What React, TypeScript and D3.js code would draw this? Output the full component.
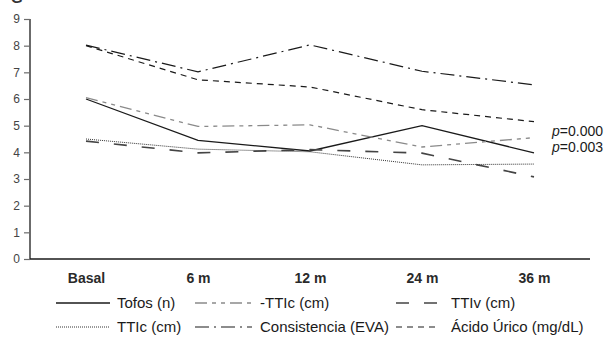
import React, { useEffect, useRef } from 'react';
import * as d3 from 'd3';

const categories = ['Basal', '6 m', '12 m', '24 m', '36 m'];
const yTicks = [0, 1, 2, 3, 4, 5, 6, 7, 8, 9];

const tofos = [6.0, 4.45, 4.05, 5.0, 3.98];
const ttIcDashDot = [6.05, 4.97, 5.03, 4.2, 4.55];
const ttIv = [4.42, 3.98, 4.1, 3.97, 3.08];
const ttIcDotted = [4.5, 4.12, 4.02, 3.53, 3.56];
const consistencia = [8.02, 7.02, 8.03, 7.04, 6.53];
const acidoUrico = [8.0, 6.72, 6.45, 5.6, 5.15];

const pLabels = ['0.000', '0.003'];

interface Series {
  name: string;
  values: number[];
  color: string;
  width: number;
  dash: string | null;
}

const series: Series[] = [
  { name: 'Tofos (n)', values: tofos, color: '#1a1a1a', width: 1.3, dash: null },
  { name: '-TTIc (cm)', values: ttIcDashDot, color: '#8a8a8a', width: 1.3, dash: '12,5,4,5,4,5' },
  { name: 'TTIv (cm)', values: ttIv, color: '#444', width: 1.6, dash: '13,15' },
  { name: 'TTIc (cm)', values: ttIcDotted, color: '#333', width: 1, dash: '1,1' },
  { name: 'Consistencia (EVA)', values: consistencia, color: '#1a1a1a', width: 1.2, dash: '14,5,2,5' },
  { name: 'Ácido Úrico (mg/dL)', values: acidoUrico, color: '#1a1a1a', width: 1.2, dash: '6,5' },
];

export default function App() {
  const svgRef = useRef<SVGSVGElement>(null);
  const width = 607;
  const height = 339;

  useEffect(() => {
    if (!svgRef.current) return;
    const svg = d3.select(svgRef.current);
    svg.selectAll('*').remove();

    const font = '"Liberation Sans", Arial, sans-serif';
    const left = 30;
    const right = 590;
    const top = 19;
    const bottom = 259;

    const x = d3.scalePoint<string>().domain(categories).range([left, right]).padding(0.5);
    const y = d3.scaleLinear().domain([0, 9]).range([bottom, top]);

    // cropped panel letter at top edge
    svg.append('text')
      .attr('x', 11)
      .attr('y', 3)
      .style('font-family', font)
      .style('font-size', '15px')
      .style('font-weight', 'bold')
      .style('fill', '#333')
      .text('G');

    // y axis
    const yAxis = svg.append('g')
      .attr('transform', `translate(${left},0)`)
      .call(d3.axisLeft(y).tickValues(yTicks).tickSize(6).tickPadding(4).tickFormat(d3.format('d')));
    yAxis.select('.domain').attr('d', `M0,${top}V${bottom}`).style('stroke', '#6b6b6b').style('stroke-width', 2);
    yAxis.selectAll('.tick line').style('stroke', '#6b6b6b').style('stroke-width', 1.2);
    yAxis.selectAll('.tick text')
      .style('font-family', font)
      .style('font-size', '12px')
      .style('fill', '#444');

    // x axis
    const xAxis = svg.append('g')
      .attr('transform', `translate(0,${bottom})`)
      .call(d3.axisBottom(x).tickSize(0).tickPadding(14));
    xAxis.select('.domain').attr('d', `M${left},0H${right}`).style('stroke', '#1a1a1a').style('stroke-width', 1.6);
    xAxis.selectAll('.tick text')
      .style('font-family', font)
      .style('font-size', '14px')
      .style('font-weight', 'bold')
      .style('fill', '#2a2a2a');

    const line = d3.line<number>()
      .x((d, i) => x(categories[i]) as number)
      .y(d => y(d));

    series.forEach(s => {
      svg.append('path')
        .datum(s.values)
        .attr('fill', 'none')
        .attr('stroke', s.color)
        .attr('stroke-width', s.width)
        .attr('stroke-dasharray', s.dash ?? null)
        .attr('d', line);
    });

    // p values
    pLabels.forEach((p, i) => {
      const t = svg.append('text')
        .attr('x', 552)
        .attr('y', 136 + i * 16)
        .style('font-family', font)
        .style('font-size', '14px')
        .style('fill', '#1a1a1a');
      t.append('tspan').style('font-style', 'italic').text('p');
      t.append('tspan').text(`=${p}`);
    });

    // legend: 3 columns x 2 rows
    const colX = [[56, 110, 117], [195, 252, 260], [396, 438, 451]];
    const rowY = [303, 327];
    series.forEach((s, k) => {
      const col = k % 3;
      const row = Math.floor(k / 3);
      const [x1, x2, tx] = colX[col];
      svg.append('line')
        .attr('x1', x1)
        .attr('x2', x2)
        .attr('y1', rowY[row])
        .attr('y2', rowY[row])
        .attr('stroke', s.color)
        .attr('stroke-width', s.width)
        .attr('stroke-dasharray', s.dash ?? null);
      svg.append('text')
        .attr('x', tx)
        .attr('y', rowY[row])
        .attr('dy', '0.35em')
        .style('font-family', font)
        .style('font-size', '15px')
        .style('fill', '#1a1a1a')
        .text(s.name);
    });
  }, []);

  return (
    <svg
      ref={svgRef}
      width={width}
      height={height}
      viewBox={`0 0 ${width} ${height}`}
      style={{ position: 'absolute', left: 0, top: 0, background: '#fff' }}
    />
  );
}
